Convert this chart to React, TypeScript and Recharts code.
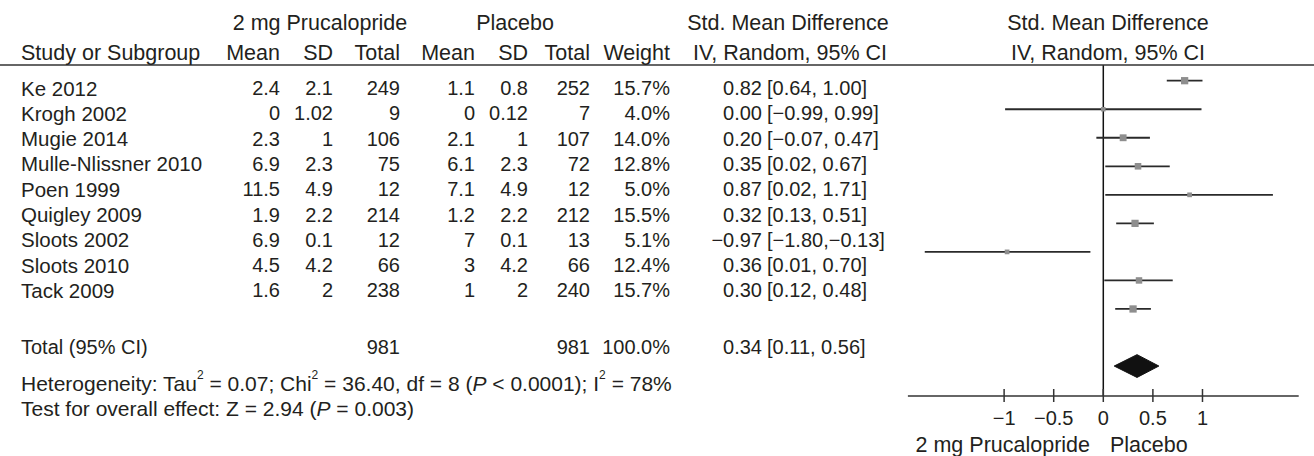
// Forest plot: 2 mg Prucalopride vs Placebo (Std. Mean Difference, IV, Random)
import React from 'react';
import {
  ComposedChart, Scatter, ErrorBar, Area, XAxis, YAxis, ReferenceLine,
} from 'recharts';

// ─── data ────────────────────────────────────────────────────────────────────
const studies   = ['Ke 2012', 'Krogh 2002', 'Mugie 2014', 'Mulle-Nlissner 2010', 'Poen 1999', 'Quigley 2009', 'Sloots 2002', 'Sloots 2010', 'Tack 2009'];
const pruMean   = ['2.4', '0', '2.3', '6.9', '11.5', '1.9', '6.9', '4.5', '1.6'];
const pruSD     = ['2.1', '1.02', '1', '2.3', '4.9', '2.2', '0.1', '4.2', '2'];
const pruTotal  = [249, 9, 106, 75, 12, 214, 12, 66, 238];
const plaMean   = ['1.1', '0', '2.1', '6.1', '7.1', '1.2', '7', '3', '1'];
const plaSD     = ['0.8', '0.12', '1', '2.3', '4.9', '2.2', '0.1', '4.2', '2'];
const plaTotal  = [252, 7, 107, 72, 12, 212, 13, 66, 240];
const weights   = [15.7, 4.0, 14.0, 12.8, 5.0, 15.5, 5.1, 12.4, 15.7];
const smd       = [0.82, 0.00, 0.20, 0.35, 0.87, 0.32, -0.97, 0.36, 0.30];
const ciLow     = [0.64, -0.99, -0.07, 0.02, 0.02, 0.13, -1.80, 0.01, 0.12];
const ciHigh    = [1.00, 0.99, 0.47, 0.67, 1.71, 0.51, -0.13, 0.70, 0.48];

const pooledSmd  = 0.34;
const pooledLow  = 0.11;
const pooledHigh = 0.56;
const pruSum = 981;
const plaSum = 981;
const totalWeight = '100.0%';
const pooledRow = 10;

const tau2 = '0.07';
const chi2 = '36.40';
const df = 8;
const pHet = '0.0001';
const i2 = '78%';
const zVal = '2.94';
const pOverall = '0.003';

const xTicks = [-1, -0.5, 0, 0.5, 1];

// ─── helpers ─────────────────────────────────────────────────────────────────
const INK   = '#231f20';
const GREY  = '#8e8e8e';
const FONT  = "'Liberation Sans', Arial, Helvetica, sans-serif";
const FS    = 20;     // table cells
const FS_H  = 21.5;   // headings / side labels
const FS_N  = 21;     // notes

const neg = (s: string) => s.replace('-', '\u2212');
const f2  = (v: number) => neg(v.toFixed(2));
const ciText = (lo: number, hi: number) => `[${f2(lo)},${hi < 0 ? '' : ' '}${f2(hi)}]`;

const studyPts = studies.map((_, i) => ({
  x: smd[i], y: i, err: [smd[i] - ciLow[i], ciHigh[i] - smd[i]], w: weights[i],
}));
const diamond = [
  { x: pooledLow,  band: [pooledRow, pooledRow] },
  { x: pooledSmd,  band: [pooledRow - 0.4, pooledRow + 0.4] },
  { x: pooledHigh, band: [pooledRow, pooledRow] },
];

const Square = (p: any) => {
  const s = 3.5 + 0.24 * p.payload.w;
  return <rect x={p.cx - s / 2} y={p.cy - s / 2} width={s} height={s} fill={GREY} />;
};

const Tick = (p: any) => {
  const { x, y, payload } = p;
  return (
    <g>
      <line x1={x} x2={x} y1={y - 7} y2={y + 6} stroke="#333" strokeWidth={1.5} />
      <text x={x} y={y + 22} textAnchor="middle" dominantBaseline="central"
        fontFamily={FONT} fontSize={FS} fill={INK}>{neg(String(payload.value))}</text>
    </g>
  );
};

// table columns (right edges) and rows
const COLS = { mean1: 280, sd1: 333, tot1: 400, mean2: 475, sd2: 528, tot2: 590, weight: 670, est: 762, ci: 767 };
const rowY = (i: number) => 88 + 25.3 * i;

export default function App() {
  const t = (x: number, y: number, s: React.ReactNode, anchor: 'start' | 'middle' | 'end' = 'end', fs?: number) => (
    <text x={x} y={y} textAnchor={anchor} dominantBaseline="central" fontSize={fs}>{s}</text>
  );

  return (
    <div style={{ position: 'absolute', left: 0, top: 0, width: 1314, height: 456, background: 'white' }}>
      <ComposedChart width={1314} height={456} margin={{ top: 65, right: 15.3, bottom: 30, left: 907.9 }}>
        <XAxis type="number" dataKey="x" domain={[-1.97, 1.97]} allowDataOverflow ticks={xTicks} interval={0}
          axisLine={{ stroke: '#333', strokeWidth: 1.5 }} tickLine={false} tickSize={0} tickMargin={0} tick={Tick} />
        <YAxis type="number" dataKey="y" domain={[-0.55, 11.05]} reversed hide allowDataOverflow />
        <ReferenceLine x={0} stroke="#111" strokeWidth={1.5} />
        <Area data={diamond} dataKey="band" type="linear" stroke="#111" strokeWidth={1} fill="#111" fillOpacity={1}
          dot={false} activeDot={false} isAnimationActive={false} />
        <Scatter data={studyPts} shape={Square} isAnimationActive={false}>
          <ErrorBar dataKey="err" direction="x" width={0} stroke="#2a2a2a" strokeWidth={1.8} />
        </Scatter>
      </ComposedChart>

      <svg width={1314} height={456} style={{ position: 'absolute', left: 0, top: 0, pointerEvents: 'none' }}
        fontFamily={FONT} fontSize={FS} fill={INK}>
        <line x1={0} x2={1314} y1={65} y2={65} stroke="#333" strokeWidth={1.5} />

        {/* header */}
        {t(320, 23, '2 mg Prucalopride', 'middle', FS_H)}
        {t(515, 23, 'Placebo', 'middle', FS_H)}
        {t(788, 23, 'Std. Mean Difference', 'middle', FS_H)}
        {t(1108, 23, 'Std. Mean Difference', 'middle', FS_H)}
        {t(21, 53, 'Study or Subgroup', 'start', FS_H)}
        {t(COLS.mean1, 53, 'Mean', 'end', FS_H)}
        {t(COLS.sd1, 53, 'SD', 'end', FS_H)}
        {t(COLS.tot1, 53, 'Total', 'end', FS_H)}
        {t(COLS.mean2, 53, 'Mean', 'end', FS_H)}
        {t(COLS.sd2, 53, 'SD', 'end', FS_H)}
        {t(COLS.tot2, 53, 'Total', 'end', FS_H)}
        {t(COLS.weight, 53, 'Weight', 'end', FS_H)}
        {t(790, 53, 'IV, Random, 95% CI', 'middle', FS_H)}
        {t(1108, 53, 'IV, Random, 95% CI', 'middle', FS_H)}

        {/* study rows */}
        {studies.map((s, i) => (
          <g key={s}>
            {t(21, rowY(i), s, 'start', 20.5)}
            {t(COLS.mean1, rowY(i), pruMean[i])}
            {t(COLS.sd1, rowY(i), pruSD[i])}
            {t(COLS.tot1, rowY(i), pruTotal[i])}
            {t(COLS.mean2, rowY(i), plaMean[i])}
            {t(COLS.sd2, rowY(i), plaSD[i])}
            {t(COLS.tot2, rowY(i), plaTotal[i])}
            {t(COLS.weight, rowY(i), `${weights[i].toFixed(1)}%`)}
            {t(COLS.est, rowY(i), f2(smd[i]))}
            {t(COLS.ci, rowY(i), ciText(ciLow[i], ciHigh[i]), 'start')}
          </g>
        ))}

        {/* total */}
        {t(21, 347, 'Total (95% CI)', 'start')}
        {t(COLS.tot1, 347, pruSum)}
        {t(COLS.tot2, 347, plaSum)}
        {t(COLS.weight, 347, totalWeight)}
        {t(COLS.est, 347, f2(pooledSmd))}
        {t(COLS.ci, 347, ciText(pooledLow, pooledHigh), 'start')}

        <text x={21} y={383} dominantBaseline="central" fontSize={FS_N}>
          Heterogeneity: Tau<tspan dy={-8} fontSize={12}>2</tspan><tspan dy={8}> = {tau2}; Chi</tspan>
          <tspan dy={-8} fontSize={12}>2</tspan><tspan dy={8}> = {chi2}, df = {df} (</tspan>
          <tspan fontStyle="italic">P</tspan><tspan> &lt; {pHet}); I</tspan>
          <tspan dy={-8} fontSize={12}>2</tspan><tspan dy={8}> = {i2}</tspan>
        </text>
        <text x={21} y={408} dominantBaseline="central" fontSize={FS_N}>
          Test for overall effect: Z = {zVal} (<tspan fontStyle="italic">P</tspan> = {pOverall})
        </text>

        {t(1090, 445, '2 mg Prucalopride', 'end', FS_H)}
        {t(1110, 445, 'Placebo', 'start', FS_H)}
      </svg>
    </div>
  );
}
